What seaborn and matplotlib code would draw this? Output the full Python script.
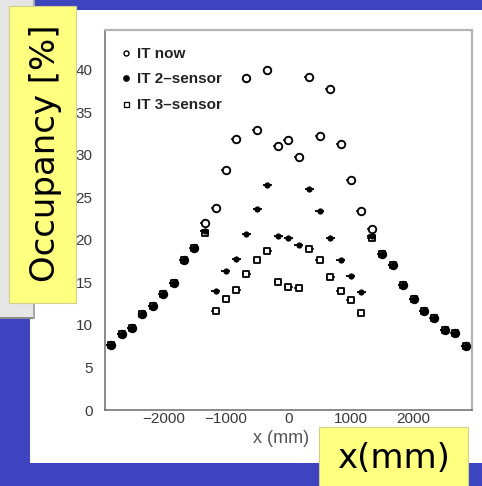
import numpy as np
import pandas as pd
import matplotlib
matplotlib.use("Agg")
import matplotlib.pyplot as plt
import seaborn as sns
from matplotlib.patches import Rectangle
from matplotlib.lines import Line2D
from matplotlib.ticker import MultipleLocator

# ---------------- data ----------------
x_mm = [-2840, -2670, -2505, -2335, -2170, -2005, -1835, -1670, -1505,
        -1335, -1165, -1000, -835, -670, -500, -335, -165, 0,
        165, 335, 500, 670, 835, 1000, 1165, 1335,
        1505, 1670, 1835, 2005, 2170, 2335, 2505, 2670, 2840]

outer_left = [7.6, 8.9, 9.7, 11.3, 12.2, 13.6, 14.9, 17.6, 19.0]
outer_right = [18.3, 17.0, 14.7, 13.0, 11.6, 10.8, 9.4, 9.1, 7.5]

it_now_mid = [22.0, 23.8, 28.2, 31.9, 39.1, 32.9, 40.0, 31.0, 31.8,
              29.8, 39.2, 32.2, 37.8, 31.3, 27.0, 23.4, 21.3]
it_2s_mid = [21.0, 14.0, 16.3, 17.8, 20.7, 23.6, 26.5, 20.5, 20.2,
             19.4, 26.0, 23.4, 20.2, 17.6, 15.8, 13.9, 20.5]
it_3s_mid = [20.8, 11.6, 13.1, 14.1, 16.0, 17.6, 18.7, 15.1, 14.5,
             14.4, 18.9, 17.6, 15.7, 14.0, 12.9, 11.4, 20.2]

it_now = outer_left + it_now_mid + outer_right
it_2sensor = outer_left + it_2s_mid + outer_right
it_3sensor = outer_left + it_3s_mid + outer_right

legend_labels = ["IT now", "IT 2\u2013sensor", "IT 3\u2013sensor"]
y_ticks = [0, 5, 10, 15, 20, 25, 30, 35, 40]
x_ticks = [-2000, -1000, 0, 1000, 2000]

df = pd.DataFrame({"x": x_mm, "now": it_now, "s2": it_2sensor, "s3": it_3sensor})

# ---------------- figure ----------------
W, H = 482, 486
sns.set_style("white")
plt.rcParams["font.family"] = ["Liberation Sans", "DejaVu Sans"]
fig = plt.figure(figsize=(W / 100, H / 100), dpi=100)
fig.patch.set_facecolor("#3d44bf")


def rect(x0, y0, x1, y1, **kw):
    """rectangle given in image pixel coords (top-left origin)"""
    r = Rectangle((x0 / W, 1 - y1 / H), (x1 - x0) / W, (y1 - y0) / H,
                  transform=fig.transFigure, **kw)
    fig.add_artist(r)
    return r


# slide background pieces
rect(30, 10, 482, 463, facecolor="white", edgecolor="none", zorder=-3)
rect(0, 0, 34, 319, facecolor="#e6e6e6", edgecolor="none", zorder=-2)
rect(33, 0, 35, 319, facecolor="#a8a8a8", edgecolor="none", zorder=-2)
rect(0, 317, 33, 319, facecolor="#8a8a8a", edgecolor="none", zorder=-2)

ax = fig.add_axes([105 / W, 1 - 410 / H, (472 - 105) / W, (410 - 30) / H])
ax.set_facecolor("white")

ax.errorbar(df["x"], df["now"], xerr=78, fmt="none", ecolor="black", elinewidth=1.1, zorder=2)
ax.errorbar(df["x"], df["s3"], xerr=70, fmt="none", ecolor="black", elinewidth=1.1, zorder=2)
ax.errorbar(df["x"], df["s2"], xerr=72, fmt="none", ecolor="black", elinewidth=1.3, zorder=4)

sns.scatterplot(data=df, x="x", y="now", marker="o", s=5.4 ** 2,
                facecolors="white", edgecolor="black", linewidth=1.35, ax=ax, zorder=3)
sns.scatterplot(data=df, x="x", y="s3", marker="s", s=5.0 ** 2,
                facecolors="white", edgecolor="black", linewidth=1.3, ax=ax, zorder=3)
sns.scatterplot(data=df, x="x", y="s2", marker="o", s=3.9 ** 2,
                color="black", edgecolor="black", linewidth=0.5, ax=ax, zorder=5)

ax.set_xlim(-2935, 2940)
ax.set_ylim(0, 44.7)
ax.set_xticks(x_ticks)
ax.set_yticks(y_ticks)
ax.set_xticklabels([str(t).replace("-", "\u2212") for t in x_ticks])
ax.xaxis.set_minor_locator(MultipleLocator(200))
ax.yaxis.set_minor_locator(MultipleLocator(1))
ax.tick_params(which="both", direction="in", colors="#777777", labelcolor="#3a3a3a",
               labelsize=11, top=False, right=False)
ax.tick_params(which="major", length=6, width=0.8)
ax.tick_params(which="minor", length=3, width=0.6)
ax.tick_params(axis="y", pad=9)
ax.tick_params(axis="x", pad=1.5)
ax.set_xlabel("")
ax.set_ylabel("")
for side in ["left", "bottom"]:
    ax.spines[side].set_color("#6a6a6a")
    ax.spines[side].set_linewidth(1.1)
for side in ["top", "right"]:
    ax.spines[side].set_color("#b4b4b4")
    ax.spines[side].set_linewidth(1.6)

handles = [
    Line2D([], [], ls="none", marker="o", ms=3.6, mfc="none", mec="black", mew=1.0),
    Line2D([], [], ls="none", marker="o", ms=3.8, mfc="black", mec="black"),
    Line2D([], [], ls="none", marker="s", ms=3.6, mfc="none", mec="black", mew=0.9),
]
leg = ax.legend(handles, legend_labels, loc="upper left",
                bbox_to_anchor=((121 - 105) / 367, (410 - 47) / 380),
                frameon=False, handlelength=0.6, handletextpad=0.45,
                labelspacing=0.75, borderpad=0, borderaxespad=0,
                prop={"weight": "bold", "size": 11})
for t in leg.get_texts():
    t.set_color("#222222")

# gray ROOT axis title (partly covered)
fig.text(253 / W, 1 - 438 / H, "x (mm)", ha="left", va="center",
         fontsize=13, color="#555555")

# yellow slide labels
rect(9, 6, 76, 303, facecolor="#ffff80", edgecolor="#d0d08a", linewidth=0.8, zorder=5)
rect(319, 427, 468, 490, facecolor="#ffff80", edgecolor="#d0d08a", linewidth=0.8, zorder=5)
fig.text(46 / W, 1 - 153 / H, "Occupancy [%]", rotation=90, ha="center", va="center",
         fontsize=24.5, color="black", family=["DejaVu Sans"], zorder=6)
fig.text(393 / W, 1 - 458 / H, "x(mm)", ha="center", va="center",
         fontsize=24.5, color="black", family=["DejaVu Sans"], zorder=6)

fig.savefig("out.png", dpi=100, facecolor=fig.get_facecolor())
